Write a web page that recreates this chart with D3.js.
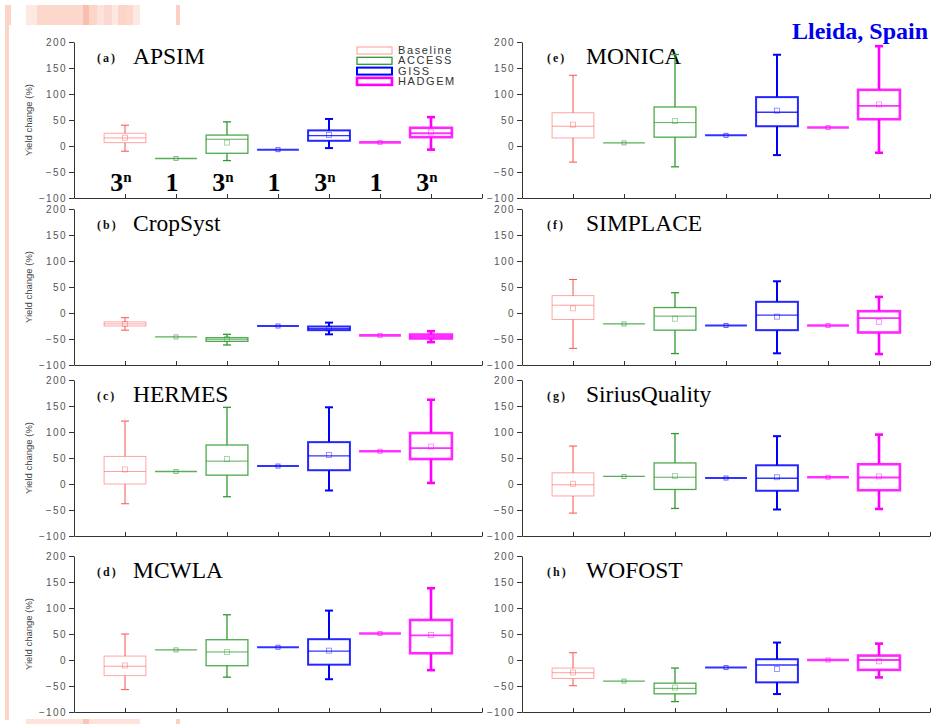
<!DOCTYPE html>
<html>
<head>
<meta charset="utf-8">
<script src="https://cdn.jsdelivr.net/npm/d3@7"></script>
<style>
body { margin: 0; background: #fff; }
svg { display: block; }
</style>
</head>
<body>
<svg id="chart" width="950" height="724"></svg>
<script>
const width = 950;
const height = 724;

// panels, in the order (a) .. (h)
const models = ["APSIM", "CropSyst", "HERMES", "MCWLA", "MONICA", "SIMPLACE", "SiriusQuality", "WOFOST"];
const letters = ["(a)", "(b)", "(c)", "(d)", "(e)", "(f)", "(g)", "(h)"];
const series = ["Baseline", "ACCESS", "GISS", "HADGEM"];
const yTicks = [-100, -50, 0, 50, 100, 150, 200];
const xTicks = [1, 2, 3, 4, 5, 6, 7, 8];
const counts = ["3", "1", "3", "1", "3", "1", "3"];

// box stats: [low whisker, q1, median, q3, high whisker, mean]
const baselineStats = [
    [-10, 6.5, 15.5, 24.5, 40, 16],
    [-33, -25, -21, -17, -9, -21],
    [-38, 0, 24, 53, 121, 28],
    [-57, -30, -12, 7.5, 50, -10.5],
    [-31, 15.5, 38, 64, 136, 41],
    [-68, -12.5, 15, 33.5, 64.5, 9],
    [-56, -23, -1.5, 21.5, 73, 0.5],
    [-49.5, -35.5, -24.5, -15.5, 14, -24]
];
const accessLine = [-24, -46, 24, 19.5, 6, -21, 14.5, -40.5];
const accessStats = [
    [-28, -14, 13, 21, 46.5, 6.5],
    [-61.5, -54.5, -50.5, -47.5, -41, -50],
    [-24.5, 17, 44, 75, 147.5, 48],
    [-33, -11, 15.5, 39, 87, 15.5],
    [-40, 17, 45, 75, 176, 48],
    [-78, -33, -6, 10.5, 39, -11],
    [-47, -10.5, 13, 40.5, 97, 15.5],
    [-80, -65, -54.5, -44.5, -15.5, -53]
];
const gissLine = [-7, -25, 34.5, 24.5, 20.5, -24, 11.5, -14.5];
const gissStats = [
    [-4, 10, 20, 30, 52, 21],
    [-41, -33, -30, -26, -18.5, -30],
    [-12.5, 26.5, 54, 80.5, 147.5, 56],
    [-37, -9, 17, 40, 95, 18],
    [-17.5, 38, 65, 94, 175.5, 68],
    [-77.5, -33, -4, 21.5, 61, -7],
    [-49, -13, 11, 36, 92, 13],
    [-65.5, -43, -9.5, 1.5, 33.5, -17.5]
];
const hadgemLine = [7, -43, 63, 51, 35.5, -24, 13, 0];
const hadgemStats = [
    [-7, 17, 24.5, 35, 55.5, 26],
    [-56, -49, -45.5, -41.5, -35, -45.5],
    [2, 48, 69, 98, 162, 72],
    [-19.5, 13, 47.5, 77, 138, 48],
    [-13, 51.5, 77, 108, 192, 80],
    [-79, -37.5, -10, 3.5, 31, -17],
    [-48, -12, 12.5, 38, 95, 14.5],
    [-33.5, -19, 0, 8.5, 31.5, -2.5]
];

const colors = ["#ff5050", "#2f9a2f", "#0000ff", "#ff00ff"];
const strokes = [1, 1.3, 2, 2.6];

const svg = d3.select("#chart");

// slide leftovers on the left edge
const deco = svg.append("g");
[[5, 5, 6, 20, "#fcd5c8"], [26, 5, 11, 20, "#fde8e2"], [37, 5, 46, 20, "#fcd8cc"],
 [83, 5, 6, 20, "#f9bfae"], [89, 5, 8, 20, "#fcd5c8"], [97, 5, 7, 20, "#fde3dc"],
 [104, 5, 8, 20, "#fcd9cf"], [112, 5, 6, 20, "#fde8e2"], [118, 5, 8, 20, "#fcd5c8"],
 [126, 5, 7, 20, "#fdd8cc"], [133, 5, 7, 20, "#fde8e2"], [176, 5, 4, 20, "#fcd0c2"],
 [5, 25, 4, 695, "#fdd5c8"], [26, 719, 114, 5, "#fde3dc"], [83, 719, 6, 5, "#f9c7b8"],
 [176, 719, 4, 5, "#fcd0c2"]].forEach(function(r){
    deco.append("rect").attr("x", r[0]).attr("y", r[1]).attr("width", r[2]).attr("height", r[3]).attr("fill", r[4]);
});

const plotW = 408;
const plotH = 156;
const colX = [74, 522];
const rowY = [42, 209, 380, 556];
const half = 0.41;

models.forEach(function(name, i){
    const col = i < 4 ? 0 : 1;
    const row = i % 4;
    const x0 = colX[col];
    const y0 = rowY[row];

    const x = d3.scaleLinear().domain([0, 8]).range([x0, x0 + plotW]);
    const y = d3.scaleLinear().domain([-100, 200]).range([y0 + plotH, y0]);

    const g = svg.append("g");

    // axes
    const yAxis = g.append("g")
        .attr("transform", `translate(${x0},0)`)
        .call(d3.axisLeft(y).tickValues(yTicks).tickSize(5).tickSizeOuter(0).tickPadding(2));
    yAxis.selectAll("text")
        .attr("font-family", "Arial, 'Liberation Sans', sans-serif")
        .attr("font-size", 10)
        .attr("letter-spacing", 1.4)
        .attr("fill", "#555");

    g.append("g")
        .attr("transform", `translate(0,${y0 + plotH})`)
        .call(d3.axisBottom(x).tickValues(xTicks).tickSize(-4).tickSizeOuter(0).tickFormat(""));

    g.selectAll(".domain, .tick line").attr("stroke", "#333");

    if (col === 0) {
        g.append("text")
            .attr("transform", `translate(32,${y0 + plotH / 2}) rotate(-90)`)
            .attr("text-anchor", "middle")
            .attr("font-family", "Arial, 'Liberation Sans', sans-serif")
            .attr("font-size", 9.5)
            .attr("fill", "#444")
            .text("Yield change (%)");
    }

    // titles
    g.append("text")
        .attr("x", col === 0 ? 97 : 547)
        .attr("y", y0 + 20)
        .attr("font-family", "'Liberation Serif', 'Times New Roman', serif")
        .attr("font-weight", "bold")
        .attr("font-size", 12)
        .attr("letter-spacing", 2)
        .attr("fill", "#111")
        .text(letters[i]);
    g.append("text")
        .attr("x", col === 0 ? 133 : 586)
        .attr("y", y0 + 22)
        .attr("font-family", "'Liberation Serif', 'Times New Roman', serif")
        .attr("font-size", 23.5)
        .attr("fill", "#000")
        .text(name);

    // single-value runs drawn as flat lines
    const lines = [
        {pos: 2, v: accessLine[i], k: 1},
        {pos: 4, v: gissLine[i], k: 2},
        {pos: 6, v: hadgemLine[i], k: 3}
    ];
    g.selectAll(".flat").data(lines).enter().append("line")
        .attr("x1", function(d){ return x(d.pos - half); })
        .attr("x2", function(d){ return x(d.pos + half); })
        .attr("y1", function(d){ return y(d.v); })
        .attr("y2", function(d){ return y(d.v); })
        .attr("stroke", function(d){ return colors[d.k]; })
        .attr("stroke-width", function(d){ return strokes[d.k]; })
        .attr("opacity", 0.8);
    g.selectAll(".flatDot").data(lines).enter().append("rect")
        .attr("x", function(d){ return x(d.pos) - 2; })
        .attr("y", function(d){ return y(d.v) - 2; })
        .attr("width", 4).attr("height", 4)
        .attr("fill", "none")
        .attr("stroke", function(d){ return colors[d.k]; })
        .attr("stroke-width", 1)
        .attr("opacity", 0.6);

    // box plots
    const boxes = [
        {pos: 1, s: baselineStats[i], k: 0},
        {pos: 3, s: accessStats[i], k: 1},
        {pos: 5, s: gissStats[i], k: 2},
        {pos: 7, s: hadgemStats[i], k: 3}
    ];
    const box = g.selectAll(".box").data(boxes).enter().append("g")
        .attr("stroke", function(d){ return colors[d.k]; })
        .attr("stroke-width", function(d){ return strokes[d.k]; })
        .attr("fill", "none");

    box.append("line")
        .attr("x1", function(d){ return x(d.pos); })
        .attr("x2", function(d){ return x(d.pos); })
        .attr("y1", function(d){ return y(d.s[0]); })
        .attr("y2", function(d){ return y(d.s[1]); });
    box.append("line")
        .attr("x1", function(d){ return x(d.pos); })
        .attr("x2", function(d){ return x(d.pos); })
        .attr("y1", function(d){ return y(d.s[3]); })
        .attr("y2", function(d){ return y(d.s[4]); });
    [0, 4].forEach(function(j){
        box.append("line")
            .attr("x1", function(d){ return x(d.pos) - 4; })
            .attr("x2", function(d){ return x(d.pos) + 4; })
            .attr("y1", function(d){ return y(d.s[j]); })
            .attr("y2", function(d){ return y(d.s[j]); });
    });
    box.append("rect")
        .attr("x", function(d){ return x(d.pos - half); })
        .attr("width", function(d){ return x(d.pos + half) - x(d.pos - half); })
        .attr("y", function(d){ return y(d.s[3]); })
        .attr("height", function(d){ return y(d.s[1]) - y(d.s[3]); })
        .attr("opacity", function(d){ return d.k === 0 ? 0.5 : 0.85; });
    box.append("line")
        .attr("x1", function(d){ return x(d.pos - half); })
        .attr("x2", function(d){ return x(d.pos + half); })
        .attr("y1", function(d){ return y(d.s[2]); })
        .attr("y2", function(d){ return y(d.s[2]); })
        .attr("stroke-width", function(d){ return Math.max(1, strokes[d.k] * 0.7); })
        .attr("opacity", function(d){ return d.k === 0 ? 0.55 : 0.8; });
    box.append("rect")
        .attr("x", function(d){ return x(d.pos) - 2.5; })
        .attr("y", function(d){ return y(d.s[5]) - 2.5; })
        .attr("width", 5).attr("height", 5)
        .attr("stroke-width", 0.8)
        .attr("opacity", 0.5);

    if (i === 0) {
        // sample counts under panel (a)
        const cnt = g.selectAll(".cnt").data(counts).enter().append("text")
            .attr("x", function(d, j){ return x(j + 1) - 4; })
            .attr("y", y0 + 149)
            .attr("text-anchor", "middle")
            .attr("font-family", "'Liberation Serif', 'Times New Roman', serif")
            .attr("font-weight", "bold")
            .attr("font-size", 26)
            .attr("fill", "#000");
        cnt.append("tspan").text(function(d){ return d; });
        cnt.filter(function(d){ return d === "3"; }).append("tspan")
            .attr("font-size", 15)
            .attr("dy", -9)
            .text("n");

        // legend
        const leg = g.selectAll(".leg").data(series).enter().append("g")
            .attr("transform", function(d, j){ return `translate(357,${47 + j * 10.3})`; });
        leg.append("rect")
            .attr("width", 35).attr("height", 7)
            .attr("fill", "none")
            .attr("stroke", function(d, j){ return j === 0 ? "#ff9a9a" : colors[j]; })
            .attr("stroke-width", function(d, j){ return strokes[j]; });
        leg.append("text")
            .attr("x", 41).attr("y", 7)
            .attr("font-family", "Arial, 'Liberation Sans', sans-serif")
            .attr("font-size", 11)
            .attr("letter-spacing", 1.6)
            .attr("fill", "#333")
            .text(function(d){ return d; });
    }
});

svg.append("text")
    .attr("x", 792)
    .attr("y", 39)
    .attr("font-family", "'Liberation Serif', 'Times New Roman', serif")
    .attr("font-weight", "bold")
    .attr("font-size", 24)
    .attr("fill", "#0000ee")
    .text("Lleida, Spain");
</script>
</body>
</html>
